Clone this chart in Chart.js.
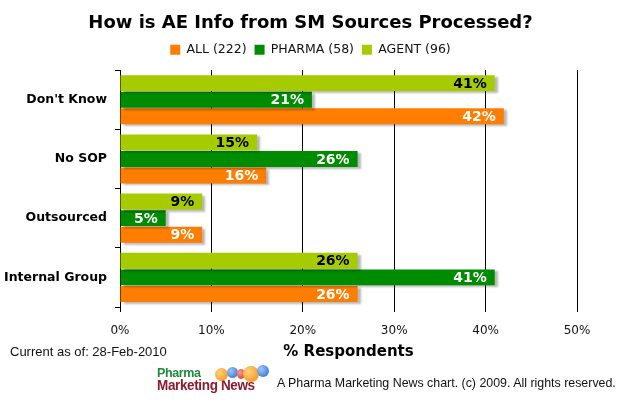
<!DOCTYPE html>
<html>
<head>
<meta charset="utf-8">
<script src="https://cdn.jsdelivr.net/npm/chart.js@4/dist/chart.umd.min.js"></script>
<style>
  html, body { margin: 0; padding: 0; background: #fff; }
  #wrap { position: relative; width: 622px; height: 404px; overflow: hidden; }
  #results { position: absolute; left: 0; top: 0; }
  .note { position: absolute; font-family: 'Liberation Sans', Arial, sans-serif; color: #111; white-space: nowrap; }
  #asOf { left: 10px; top: 344px; font-size: 13px; }
  #rights { left: 277px; top: 376px; font-size: 12.4px; }
  #logo { position: absolute; left: 157px; top: 366px; width: 112px; height: 26px; }
  #logo .w1, #logo .w2 { position: absolute; left: 0; font-family: 'Liberation Sans Narrow', 'Liberation Sans', Arial, sans-serif; font-weight: bold; white-space: nowrap; letter-spacing: -0.4px; }
  #logo .w1 { top: 0; font-size: 12.5px; color: #1d8a3c; }
  #logo .w2 { top: 10px; font-size: 15px; color: #8e1b2c; transform: scaleX(0.9); transform-origin: left; }
  #logo .ball { position: absolute; border-radius: 50%; }
</style>
</head>
<body>
<div id="wrap">
  <canvas id="results" width="622" height="404"></canvas>
  <div class="note" id="asOf">Current as of: 28-Feb-2010</div>
  <div id="logo">
    <span class="w1">Pharma</span>
    <span class="w2">Marketing News</span>
    <div class="ball" style="left:58px;top:2px;width:13px;height:13px;background:radial-gradient(circle at 35% 35%,#ffd27a,#f08a10);"></div>
    <div class="ball" style="left:70px;top:1px;width:11px;height:11px;background:radial-gradient(circle at 35% 35%,#9cc8ff,#2a66c8);"></div>
    <div class="ball" style="left:80px;top:3px;width:8px;height:10px;background:radial-gradient(circle at 35% 35%,#ff9a8a,#d0301e);"></div>
    <div class="ball" style="left:86px;top:0px;width:16px;height:16px;background:radial-gradient(circle at 35% 35%,#ffd27a,#f08a10);"></div>
    <div class="ball" style="left:100px;top:-1px;width:12px;height:12px;background:radial-gradient(circle at 35% 35%,#9cc8ff,#2a66c8);"></div>
  </div>
  <div class="note" id="rights">A Pharma Marketing News chart. (c) 2009. All rights reserved.</div>
</div>
<script>
'use strict';

let categories = ["Don't Know", 'No SOP', 'Outsourced', 'Internal Group'];
let allValues = [42, 16, 9, 26];
let pharmaValues = [21, 26, 5, 41];
let agentValues = [41, 15, 9, 26];
let seriesNames = ['AGENT (96)', 'PHARMA (58)', 'ALL (222)'];
let xTicks = [0, 10, 20, 30, 40, 50];

const ctx = document.getElementById('results');

// draws the value at the end of each bar, plus a soft drop shadow under bars
const barLabels = {
  id: 'barLabels',
  beforeDatasetsDraw(chart){
    let c = chart.ctx;
    c.save();
    c.shadowColor = 'rgba(0,0,0,0.28)';
    c.shadowOffsetX = 3;
    c.shadowOffsetY = 2;
    c.shadowBlur = 2;
  },
  afterDatasetsDraw(chart){
    let c = chart.ctx;
    c.restore();
    c.save();
    c.font = 'bold 14px "DejaVu Sans"';
    c.textAlign = 'right';
    c.textBaseline = 'middle';
    chart.data.datasets.forEach(function(ds, i){
      let meta = chart.getDatasetMeta(i);
      c.fillStyle = ds.labelColor;
      meta.data.forEach(function(bar, j){
        c.fillText(ds.data[j] + '%', bar.x - 8, bar.y + 1);
      });
    });
    c.restore();
  }
};

const chartConfig = {
  type: 'bar',
  data: {
    labels: categories,
    datasets: [
      { label: seriesNames[0], data: agentValues, backgroundColor: '#a6cc00', labelColor: '#000' },
      { label: seriesNames[1], data: pharmaValues, backgroundColor: '#008c00', labelColor: '#fff' },
      { label: seriesNames[2], data: allValues, backgroundColor: '#ff7d00', labelColor: '#fff' }
    ]
  },
  options: {
    indexAxis: 'y',
    responsive: false,
    animation: false,
    categoryPercentage: 0.84,
    barPercentage: 0.96,
    layout: { padding: { left: 44, right: 45, top: 0, bottom: 42.5 } },
    plugins: {
      title: {
        display: true,
        text: 'How is AE Info from SM Sources Processed?',
        color: '#000',
        font: { family: 'DejaVu Sans', size: 18, weight: 'bold' },
        padding: { top: 13, bottom: 1 }
      },
      legend: {
        reverse: true,
        labels: {
          color: '#111',
          font: { family: 'DejaVu Sans', size: 12.5 },
          boxWidth: 10,
          boxHeight: 10,
          padding: 8
        }
      },
      // empty subtitle placed under the legend, only to leave a gap above the plot
      subtitle: {
        display: true,
        text: '',
        weight: 500,
        font: { size: 4, lineHeight: 1 },
        padding: { top: 0, bottom: 0 }
      },
      tooltip: { enabled: false }
    },
    scales: {
      x: {
        min: 0,
        max: 50,
        afterBuildTicks(scale){
          scale.ticks = xTicks.map(function(v){ return { value: v }; });
        },
        afterFit(scale){
          scale.height = 54.5;
        },
        ticks: {
          callback: function(v){ return v + '%'; },
          color: '#111',
          font: { family: 'DejaVu Sans', size: 12 },
          padding: 12
        },
        grid: { color: '#000', lineWidth: 1, tickLength: 5 },
        border: { display: false },
        title: {
          display: true,
          text: '% Respondents',
          color: '#000',
          font: { family: 'DejaVu Sans', size: 15, weight: 'bold' },
          padding: { top: 0, bottom: 0 }
        }
      },
      y: {
        afterFit(scale){
          // the axis box is kept narrow so that title and legend sit where they do in the original;
          // the category names may still reach into the left padding
          scale.width = 76;
          scale._computeLabelArea = function(){ return undefined; };
        },
        ticks: {
          color: '#000',
          font: { family: 'DejaVu Sans', size: 12.5, weight: 'bold' },
          padding: 8
        },
        grid: { offset: true, drawOnChartArea: false, color: '#000', tickLength: 5 },
        border: { display: true, color: '#000' }
      }
    }
  },
  plugins: [barLabels]
};

new Chart(ctx, chartConfig);
</script>
</body>
</html>
